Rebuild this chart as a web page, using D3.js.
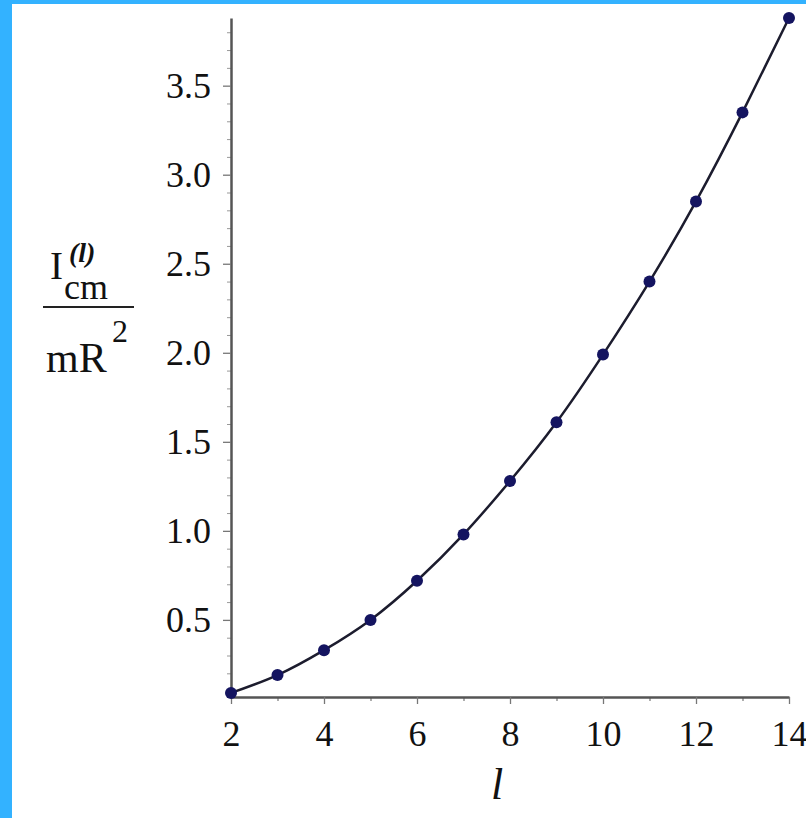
<!DOCTYPE html>
<html>
<head>
<meta charset="utf-8">
<script src="https://cdn.jsdelivr.net/npm/d3@7"></script>
<style>
  body { margin: 0; background: #fff; }
  text { font-family: "Liberation Serif", "Times New Roman", serif; fill: #111; }
</style>
</head>
<body>
<script>
// data
var lValues = [2, 3, 4, 5, 6, 7, 8, 9, 10, 11, 12, 13, 14];
var inertia = [0.09, 0.19, 0.33, 0.50, 0.72, 0.98, 1.28, 1.61, 1.99, 2.40, 2.85, 3.35, 3.88];
var xTicks = [2, 4, 6, 8, 10, 12, 14];
var xMinor = [3, 5, 7, 9, 11, 13];
var yTicks = [0.5, 1.0, 1.5, 2.0, 2.5, 3.0, 3.5];
var yMinor = [0.1, 0.2, 0.3, 0.4, 0.6, 0.7, 0.8, 0.9, 1.1, 1.2, 1.3, 1.4, 1.6, 1.7, 1.8, 1.9,
  2.1, 2.2, 2.3, 2.4, 2.6, 2.7, 2.8, 2.9, 3.1, 3.2, 3.3, 3.4, 3.6, 3.7, 3.8];

var w = 806, h = 818;
var plotLeft = 231, plotRight = 789, plotTop = 18, plotBottom = 697;

var svg = d3.select("body").append("svg")
  .attr("width", w)
  .attr("height", h);

svg.append("rect").attr("width", w).attr("height", h).attr("fill", "#fff");
// blue frame on the left and top
svg.append("rect").attr("x", 0).attr("y", 0).attr("width", 12).attr("height", h).attr("fill", "#33b2ff");
svg.append("rect").attr("x", 0).attr("y", 0).attr("width", w).attr("height", 4).attr("fill", "#33b2ff");

var xScale = d3.scaleLinear().domain([2, 14]).range([plotLeft, plotRight]);
var yScale = d3.scaleLinear().domain([0.067, 3.88]).range([plotBottom, plotTop]);

// minor ticks
svg.append("g")
  .attr("transform", "translate(0," + plotBottom + ")")
  .call(d3.axisBottom(xScale).tickValues(xMinor).tickSize(4).tickSizeOuter(0).tickFormat(""))
  .call(function(g) { g.select(".domain").remove(); })
  .selectAll("line").attr("stroke", "#777").attr("stroke-width", 1.2);

svg.append("g")
  .attr("transform", "translate(" + plotLeft + ",0)")
  .call(d3.axisLeft(yScale).tickValues(yMinor).tickSize(4).tickSizeOuter(0).tickFormat(""))
  .call(function(g) { g.select(".domain").remove(); })
  .selectAll("line").attr("stroke", "#999").attr("stroke-width", 1);

// x axis
var gx = svg.append("g")
  .attr("transform", "translate(0," + plotBottom + ")")
  .call(d3.axisBottom(xScale).tickValues(xTicks).tickSize(7).tickSizeOuter(0).tickPadding(16));
gx.select(".domain").attr("stroke", "#555").attr("stroke-width", 2.5);
gx.selectAll("line").attr("stroke", "#777").attr("stroke-width", 1.3);
gx.selectAll("text")
  .style("font-family", "Liberation Serif")
  .style("font-size", "36px")
  .attr("fill", "#111");

// y axis
var gy = svg.append("g")
  .attr("transform", "translate(" + plotLeft + ",0)")
  .call(d3.axisLeft(yScale).tickValues(yTicks).tickSize(8).tickSizeOuter(0).tickPadding(12)
    .tickFormat(d3.format(".1f")));
gy.select(".domain").attr("stroke", "#555").attr("stroke-width", 2.5);
gy.selectAll("line").attr("stroke", "#777").attr("stroke-width", 1.3);
gy.selectAll("text")
  .style("font-family", "Liberation Serif")
  .style("font-size", "36px")
  .attr("fill", "#222");

// the curve
var line = d3.line()
  .x(function(d, i) { return xScale(lValues[i]); })
  .y(function(d) { return yScale(d); })
  .curve(d3.curveNatural);

svg.append("path")
  .datum(inertia)
  .attr("d", line)
  .attr("fill", "none")
  .attr("stroke", "#1c1c2e")
  .attr("stroke-width", 2.5);

svg.selectAll("circle")
  .data(inertia)
  .enter()
  .append("circle")
  .attr("cx", function(d, i) { return xScale(lValues[i]); })
  .attr("cy", function(d) { return yScale(d); })
  .attr("r", 6)
  .attr("fill", "#141460");

// x axis title
svg.append("text")
  .attr("x", 497)
  .attr("y", 799)
  .attr("text-anchor", "middle")
  .style("font-size", "44px")
  .style("font-style", "italic")
  .text("l");

// y axis title: I_cm^(l) / mR^2
var yt = svg.append("g");
yt.append("text").attr("x", 50).attr("y", 279).style("font-size", "39px").text("I");
yt.append("text").attr("x", 64).attr("y", 299).style("font-size", "36px").text("cm");
yt.append("text").attr("x", 69).attr("y", 262)
  .style("font-size", "28px").style("font-style", "italic").style("font-weight", "bold").text("(l)");
yt.append("line")
  .attr("x1", 43).attr("x2", 134).attr("y1", 307).attr("y2", 307)
  .attr("stroke", "#222").attr("stroke-width", 2);
yt.append("text").attr("x", 46).attr("y", 372)
  .style("font-size", "42px").text("mR");
yt.append("text").attr("x", 112).attr("y", 342).style("font-size", "32px").text("2");
</script>
</body>
</html>
